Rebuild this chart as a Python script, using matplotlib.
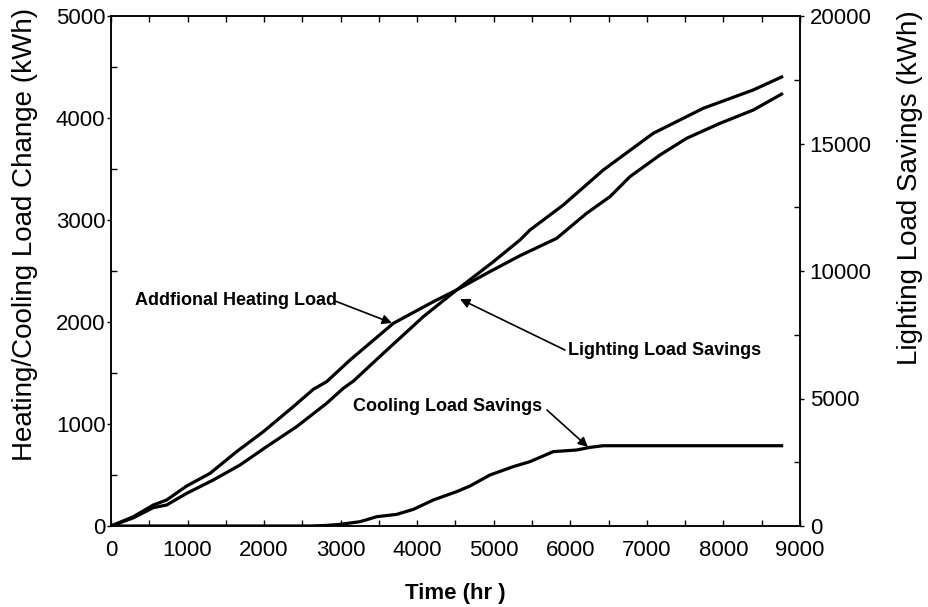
import matplotlib
matplotlib.use("Agg")
import matplotlib.pyplot as plt
from matplotlib.ticker import MultipleLocator

plt.rcParams['font.family'] = ['Liberation Sans', 'DejaVu Sans']

# Additional heating load (left axis, kWh)
heat_hr = [0, 292, 553, 727, 988, 1293, 1641, 1990, 2381, 2643, 2817, 3122, 3688,
           4210, 4515, 4907, 5342, 5821, 6213, 6518, 6779, 7171, 7519, 7955, 8389, 8738, 8760]
heat_kwh = [0, 91, 206, 255, 392, 516, 729, 925, 1170, 1340, 1415, 1627, 1987,
            2199, 2314, 2477, 2650, 2820, 3066, 3229, 3425, 3637, 3801, 3948, 4078, 4225, 4235]

# Lighting load savings (right axis, kWh)
light_hr = [0, 292, 553, 727, 988, 1336, 1685, 2033, 2425, 2817, 3034, 3165, 3557,
            4079, 4515, 4994, 5342, 5473, 5908, 6430, 7083, 7736, 8389, 8760]
light_kwh = [0, 320, 720, 824, 1280, 1804, 2392, 3112, 3896, 4812, 5400, 5680, 6772,
             8208, 9256, 10364, 11216, 11608, 12588, 13960, 15400, 16380, 17100, 17608]

# Cooling load savings (left axis, kWh)
cool_hr = [0, 2600, 2800, 2991, 3252, 3470, 3731, 3949, 4210, 4515, 4689, 4950, 5255,
           5473, 5777, 6083, 6257, 6430, 8760]
cool_kwh = [0, 0, 5, 16, 42, 91, 114, 163, 255, 337, 392, 500, 582,
            631, 729, 745, 771, 787, 787]

fig = plt.figure(figsize=(9.29, 6.07), dpi=100)
ax = fig.add_axes([111/929, 1-526/607, 689/929, 510/607])
ax2 = ax.twinx()

lw = 2.3
ax.plot(heat_hr, heat_kwh, color='black', lw=lw, solid_joinstyle='round')
ax.plot(cool_hr, cool_kwh, color='black', lw=lw, solid_joinstyle='round')
ax2.plot(light_hr, light_kwh, color='black', lw=lw, solid_joinstyle='round')

ax.set_xlim(0, 9000)
ax.set_ylim(0, 5000)
ax2.set_ylim(0, 20000)

ax.xaxis.set_major_locator(MultipleLocator(1000))
ax.xaxis.set_minor_locator(MultipleLocator(500))
ax.yaxis.set_major_locator(MultipleLocator(1000))
ax.yaxis.set_minor_locator(MultipleLocator(500))
ax2.yaxis.set_major_locator(MultipleLocator(5000))
ax2.yaxis.set_minor_locator(MultipleLocator(2500))

for a in (ax, ax2):
    for s in a.spines.values():
        s.set_linewidth(1.1)

ax.tick_params(axis='x', which='both', direction='in', top=True, length=4, width=1,
               labelsize=16, pad=10)
ax.tick_params(axis='y', which='major', direction='out', length=3, width=1,
               labelsize=16, pad=1)
ax.tick_params(axis='y', which='minor', direction='in', length=4, width=1)
ax2.tick_params(axis='y', which='major', direction='out', length=3, width=1,
                labelsize=16, pad=4)
ax2.tick_params(axis='y', which='minor', direction='in', length=4, width=1)

fig.text(25/929, 1-8/607, 'Heating/Cooling Load Change (kWh)', rotation=90,
         ha='center', va='top', fontsize=20)
fig.text(910/929, 1-10/607, 'Lighting Load Savings (kWh)', rotation=90,
         ha='center', va='top', fontsize=20)
ax.set_xlabel('Time (hr )', fontsize=16, fontweight='bold', labelpad=16)

# annotations
ax.text(313, 2206, 'Addfional Heating Load', fontsize=13, fontweight='bold',
        ha='left', va='center')
ax.annotate('', xy=(3670, 1990), xytext=(2926, 2206),
            arrowprops=dict(arrowstyle='-|>', color='black', lw=1.2,
                            mutation_scale=14, shrinkA=0, shrinkB=0))
ax.text(5969, 1725, 'Lighting Load Savings', fontsize=13, fontweight='bold',
        ha='left', va='center')
ax.annotate('', xy=(4559, 2225), xytext=(5930, 1725),
            arrowprops=dict(arrowstyle='-|>', color='black', lw=1.2,
                            mutation_scale=14, shrinkA=0, shrinkB=0))
ax.text(3161, 1167, 'Cooling Load Savings', fontsize=13, fontweight='bold',
        ha='left', va='center')
ax.annotate('', xy=(6230, 775), xytext=(5695, 1137),
            arrowprops=dict(arrowstyle='-|>', color='black', lw=1.2,
                            mutation_scale=14, shrinkA=0, shrinkB=0))

fig.savefig('out.png', dpi=100)
